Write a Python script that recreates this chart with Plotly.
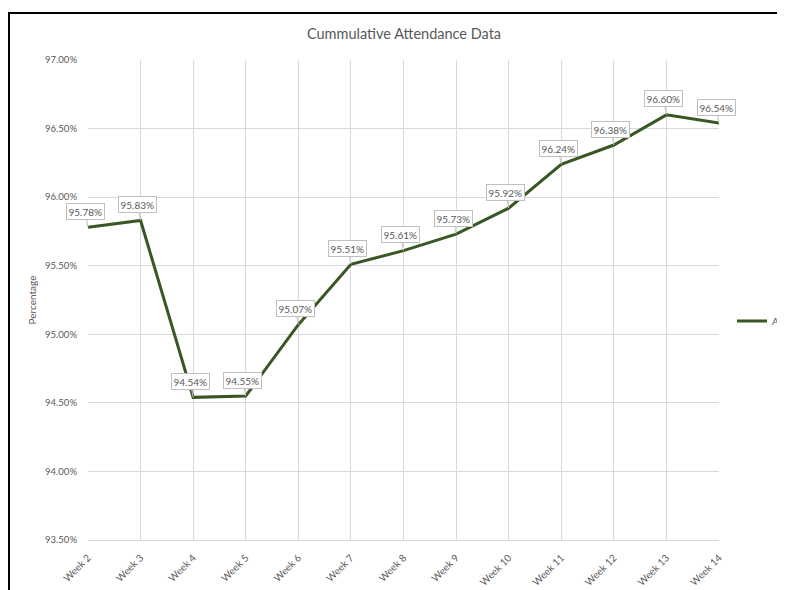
import plotly.graph_objects as go

weeks = ["Week 2", "Week 3", "Week 4", "Week 5", "Week 6", "Week 7", "Week 8",
         "Week 9", "Week 10", "Week 11", "Week 12", "Week 13", "Week 14"]
attendance = [95.78, 95.83, 94.54, 94.55, 95.07, 95.51, 95.61, 95.73, 95.92,
              96.24, 96.38, 96.60, 96.54]
series_name = "All"
y_ticks = [93.5, 94.0, 94.5, 95.0, 95.5, 96.0, 96.5, 97.0]

FONT = "Lato"
GRAY = "#595959"
GRID = "#D9D9D9"
LINE = "#385723"

# plot area in figure pixels
PL, PR, PT, PB = 80, 711, 52, 532
W, H = 785, 590
PW, PH = PR - PL, PB - PT

fig = go.Figure()
fig.add_trace(go.Scatter(
    x=weeks, y=attendance, mode="lines", name=series_name,
    line=dict(color=LINE, width=3), showlegend=True,
))

annotations = []
for w, v in zip(weeks, attendance):
    annotations.append(dict(
        x=w, y=v, xref="x", yref="y",
        text=f"{v:.2f}%", showarrow=True, arrowhead=0, arrowwidth=1,
        arrowcolor="#BFBFBF", ax=-3, ay=-16, standoff=0,
        bgcolor="white", bordercolor="#BFBFBF", borderwidth=1, borderpad=1.5,
        font=dict(family=FONT, size=10, color=GRAY),
    ))

fig.update_layout(
    width=W, height=H,
    margin=dict(l=PL, r=W - PR, t=PT, b=H - PB, autoexpand=False),
    paper_bgcolor="white", plot_bgcolor="white",
    font=dict(family=FONT, color=GRAY),
    title=dict(text="Cummulative Attendance Data", x=396 / W, xref="container",
               xanchor="center", y=1 - 26 / H, yref="container", yanchor="middle",
               font=dict(family=FONT, size=14.5, color=GRAY)),
    showlegend=True,
    legend=dict(x=1.0 + (724 - PR) / PW, xanchor="left", y=(PB - 313) / PH,
                yanchor="middle",
                font=dict(family=FONT, size=10, color=GRAY), itemwidth=30,
                bgcolor="rgba(0,0,0,0)", borderwidth=0),
    annotations=annotations,
    shapes=[dict(type="rect", xref="paper", yref="paper",
                 x0=(1 - PL) / PW, x1=1.5, y0=-0.5, y1=(PB - 5) / PH,
                 line=dict(color="black", width=2), fillcolor="rgba(0,0,0,0)",
                 layer="above")],
)

fig.update_xaxes(
    type="category", range=[0, len(weeks) - 1], showgrid=True, gridcolor=GRID,
    gridwidth=1, showline=True, linecolor=GRID, linewidth=1, zeroline=False,
    tickangle=-45, tickfont=dict(family=FONT, size=10, color=GRAY),
    ticks="", ticklabelstandoff=7, automargin=False,
)
fig.update_yaxes(
    range=[93.5, 97.0], tickvals=y_ticks,
    ticktext=[f"{t:.2f}%" for t in y_ticks],
    showgrid=True, gridcolor=GRID, gridwidth=1, zeroline=False, showline=False,
    tickfont=dict(family=FONT, size=9.5, color=GRAY), ticks="", ticklabelstandoff=10,
    title=dict(text="Percentage", font=dict(family=FONT, size=10, color=GRAY), standoff=6),
    automargin=False,
)

fig.write_html("out.html")
